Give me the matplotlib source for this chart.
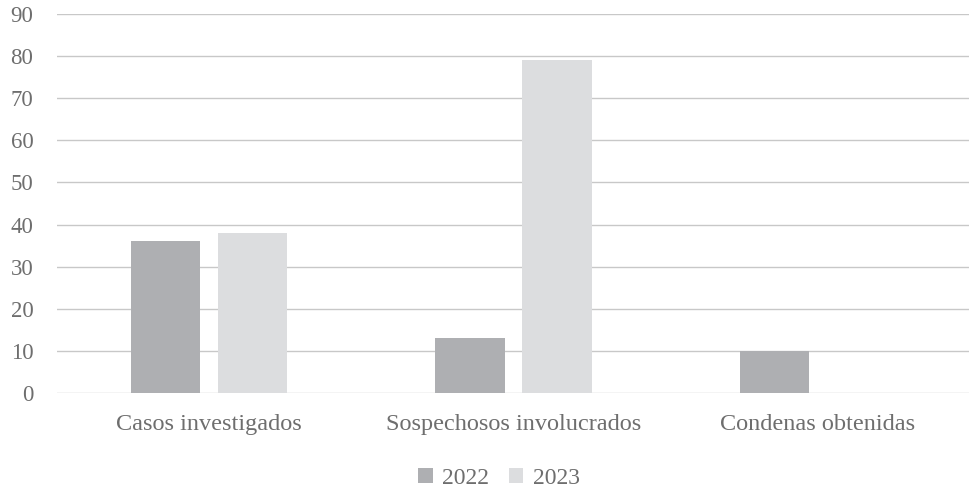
import numpy as np
import matplotlib.pyplot as plt

# --- datos ---
categorias = ["Casos investigados", "Sospechosos involucrados", "Condenas obtenidas"]
valores_2022 = [36, 13, 10]
valores_2023 = [38, 79, 0]
series = ["2022", "2023"]

color_2022 = "#AEAFB2"
color_2023 = "#DCDDDF"
gris_texto = "#6E6E6E"

plt.rcParams['font.family'] = ['Liberation Serif', 'DejaVu Serif']

fig = plt.figure(figsize=(9.7, 4.91), dpi=100)
ax = fig.add_axes([57 / 970, 98 / 491, 913 / 970, 379 / 491])

x = np.arange(len(categorias))
ancho = 0.227
desp = 0.143

ax.bar(x - desp, valores_2022, ancho, color=color_2022, label=series[0], zorder=3)
ax.bar(x + desp, valores_2023, ancho, color=color_2023, label=series[1], zorder=3)

ax.set_xlim(-0.5, len(categorias) - 0.5)
ax.set_ylim(0, 90)
ax.set_yticks(np.arange(0, 91, 10))
ax.set_xticks(x)
ax.set_xticklabels(categorias)

ax.yaxis.grid(True, color="#C8C8C8", linewidth=1.0, zorder=0)
ax.set_axisbelow(True)
for s in ax.spines.values():
    s.set_visible(False)
ax.tick_params(axis='both', length=0, colors=gris_texto)
ax.tick_params(axis='x', pad=15, labelsize=17.5)
ax.tick_params(axis='y', pad=17, labelsize=16.5)

# leyenda centrada bajo el area de trazado
fig.legend(loc='center', bbox_to_anchor=(499 / 970, 1 - 478 / 491), ncol=2,
           frameon=False, fontsize=17, handlelength=0.6, handleheight=0.6,
           handletextpad=0.4, columnspacing=0.85, labelcolor=gris_texto)

fig.savefig("out.png", dpi=100)
